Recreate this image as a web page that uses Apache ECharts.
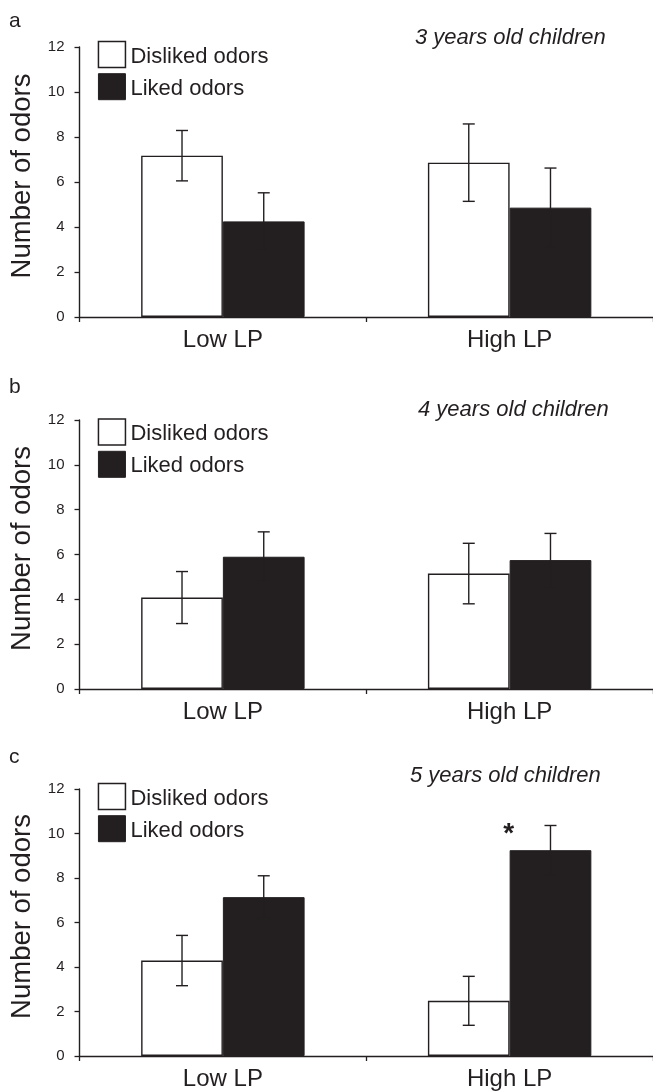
<!DOCTYPE html>
<html>
<head>
<meta charset="utf-8">
<script src="https://cdn.jsdelivr.net/npm/echarts@6/dist/echarts.min.js"></script>
<style>
html,body{margin:0;padding:0;background:#fff;}
#chart{width:653px;height:1092px;}
</style>
</head>
<body>
<div id="chart"></div>
<script>
// ---- data ----
var categories = ['Low LP', 'High LP'];
var panelLetters = ['a', 'b', 'c'];
var panelTitles = ['3 years old children', '4 years old children', '5 years old children'];
var seriesNames = ['Disliked odors', 'Liked odors'];
var yTicks = { min: 0, max: 12, interval: 2 };

var dislikedA = [7.17, 6.86];
var dislikedErrA = [1.12, 1.72];
var likedA = [4.25, 4.86];
var likedErrA = [1.27, 1.76];

var dislikedB = [4.08, 5.15];
var dislikedErrB = [1.16, 1.35];
var likedB = [5.90, 5.75];
var likedErrB = [1.11, 1.19];

var dislikedC = [4.29, 2.48];
var dislikedErrC = [1.13, 1.10];
var likedC = [7.14, 9.25];
var likedErrC = [0.96, 1.11];

// significance marks: panel index, category, y value, text
var annotations = [{ panel: 2, category: 'High LP', value: 9.95, text: '*' }];

// ---- styling / layout ----
var INK = '#231f20';
var FONT = "'Liberation Sans', Arial, Helvetica, sans-serif";
var BAR_FRAC = 0.285;
var grids = [
  { left: 79.5, width: 577, top: 47, height: 270 },
  { left: 79.5, width: 577, top: 420, height: 269 },
  { left: 79.5, width: 577, top: 789, height: 267 }
];
var letterTops = [11, 377, 747];
var titleTops = [27, 399, 765];
var titleLefts = [415, 418, 410];
var legendTops = [40.7, 418.3, 782.7];

var panels = [
  { d: dislikedA, de: dislikedErrA, l: likedA, le: likedErrA },
  { d: dislikedB, de: dislikedErrB, l: likedB, le: likedErrB },
  { d: dislikedC, de: dislikedErrC, l: likedC, le: likedErrC }
];

var option = {
  animation: false,
  backgroundColor: '#fff',
  textStyle: { fontFamily: FONT, color: INK },
  grid: grids,
  title: [],
  legend: [],
  xAxis: [],
  yAxis: [],
  series: []
};

panels.forEach(function (p, i) {
  option.title.push({
    text: panelLetters[i], left: 9, top: letterTops[i], padding: 0,
    textStyle: { fontFamily: FONT, fontSize: 21, fontWeight: 'normal', color: INK }
  });
  option.title.push({
    text: panelTitles[i], left: titleLefts[i], top: titleTops[i], padding: 0,
    textStyle: { fontFamily: FONT, fontSize: 22, fontWeight: 'normal', fontStyle: 'italic', color: INK }
  });
  option.legend.push({
    left: 97.7, top: legendTops[i], padding: 0, orient: 'vertical',
    itemWidth: 27, itemHeight: 26, itemGap: 5, icon: 'rect',
    selectedMode: false,
    formatter: '{t|{name}}',
    textStyle: {
      fontFamily: FONT, fontSize: 22, color: INK,
      rich: { t: { fontFamily: FONT, fontSize: 22, color: INK, padding: [4, 0, 0, 0] } }
    },
    data: [
      { name: seriesNames[0], itemStyle: { color: '#fff', borderColor: INK, borderWidth: 1.5 } },
      { name: seriesNames[1], itemStyle: { color: INK, borderColor: INK, borderWidth: 1 } }
    ]
  });
  option.xAxis.push({
    type: 'category', gridIndex: i, data: categories, boundaryGap: true,
    axisLine: { lineStyle: { color: INK, width: 1.4 } },
    axisTick: { show: true, length: 5, lineStyle: { color: INK, width: 1.3 } },
    axisLabel: { fontFamily: FONT, fontSize: 24, color: INK, margin: 11 },
    splitLine: { show: false }
  });
  option.yAxis.push({
    type: 'value', gridIndex: i, min: yTicks.min, max: yTicks.max, interval: yTicks.interval,
    name: 'Number of odors', nameLocation: 'middle', nameGap: 43,
    nameTextStyle: { fontFamily: FONT, fontSize: 27.5, color: INK, padding: [0, 0, 0, 12] },
    axisLine: { show: true, lineStyle: { color: INK, width: 1.4 } },
    axisTick: { show: true, length: 5, lineStyle: { color: INK, width: 1.3 } },
    axisLabel: { fontFamily: FONT, fontSize: 15, color: INK, margin: 15 },
    splitLine: { show: false }
  });
  option.series.push({
    name: seriesNames[0], type: 'bar', xAxisIndex: i, yAxisIndex: i,
    data: p.d, barWidth: (BAR_FRAC * 100) + '%', barGap: '0%',
    itemStyle: { color: '#fff', borderColor: INK, borderWidth: 1.4 }, z: 2
  });
  option.series.push({
    name: seriesNames[1], type: 'bar', xAxisIndex: i, yAxisIndex: i,
    data: p.l, barWidth: (BAR_FRAC * 100) + '%', barGap: '0%',
    itemStyle: { color: INK, borderColor: INK, borderWidth: 1 }, z: 2
  });
  var errData = [];
  p.d.forEach(function (v, c) { errData.push([c, v, p.de[c], 0]); });
  p.l.forEach(function (v, c) { errData.push([c, v, p.le[c], 1]); });
  option.series.push({
    type: 'custom', xAxisIndex: i, yAxisIndex: i, z: 5, silent: true,
    data: errData,
    renderItem: function (params, api) {
      var c = api.value(0), v = api.value(1), e = api.value(2), s = api.value(3);
      var band = api.size([1, 0])[0];
      var bw = band * BAR_FRAC;
      var x = api.coord([c, v])[0] + (s === 0 ? -bw / 2 : bw / 2);
      var yHi = api.coord([c, v + e])[1];
      var yLo = api.coord([c, v - e])[1];
      var cap = 6;
      var st = { stroke: INK, lineWidth: 1.4 };
      return {
        type: 'group',
        children: [
          { type: 'line', shape: { x1: x, y1: yHi, x2: x, y2: yLo }, style: st },
          { type: 'line', shape: { x1: x - cap, y1: yHi, x2: x + cap, y2: yHi }, style: st },
          { type: 'line', shape: { x1: x - cap, y1: yLo, x2: x + cap, y2: yLo }, style: st }
        ]
      };
    }
  });
  var ann = annotations.filter(function (a) { return a.panel === i; });
  if (ann.length) {
    option.series.push({
      type: 'custom', xAxisIndex: i, yAxisIndex: i, z: 6, silent: true,
      data: ann.map(function (a) { return [categories.indexOf(a.category), a.value, a.text]; }),
      renderItem: function (params, api) {
        var pt = api.coord([api.value(0), api.value(1)]);
        return {
          type: 'text',
          style: {
            x: pt[0] - 1, y: pt[1], text: ann[params.dataIndex].text,
            font: 'bold 28px ' + FONT, fill: INK, align: 'center', verticalAlign: 'middle'
          }
        };
      }
    });
  }
});

var chart = echarts.init(document.getElementById('chart'), null, { renderer: 'canvas' });
chart.setOption(option);
</script>
</body>
</html>
